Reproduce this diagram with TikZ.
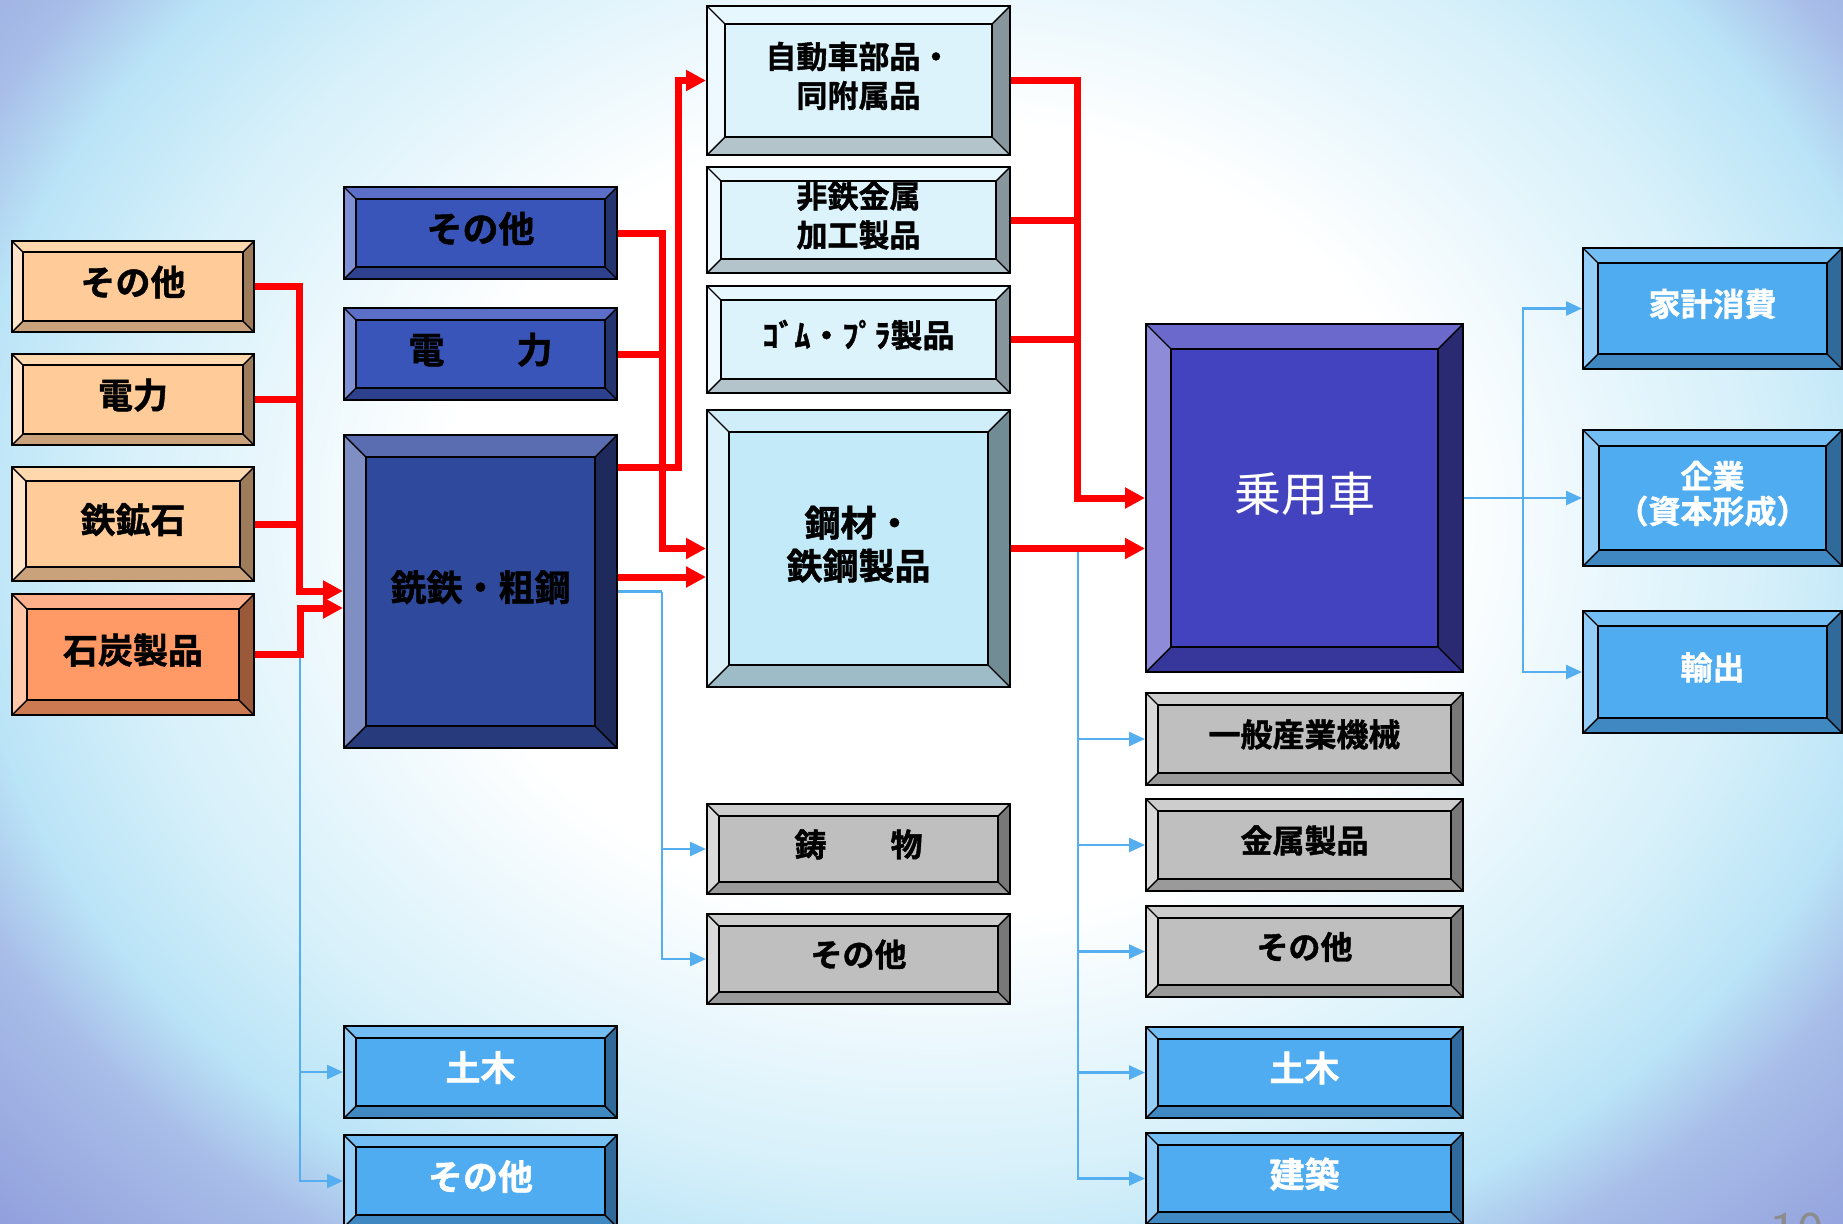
\documentclass[tikz,border=0pt]{standalone}
\usepackage{fontspec}
\newfontfamily\jpfont{Noto Sans CJK JP}[BoldFont={Noto Sans CJK JP Bold},BoldFeatures={FakeBold=1.2}]
\usetikzlibrary{arrows.meta}

% bevel colours: top, left, right, bottom, face
\definecolor{peachT}{HTML}{FFD8AE}\definecolor{peachL}{HTML}{FFE4C9}
\definecolor{peachR}{HTML}{9E7B5B}\definecolor{peachB}{HTML}{C9A27B}
\definecolor{peachF}{HTML}{FFCC99}
\definecolor{coralT}{HTML}{FFB08A}\definecolor{coralL}{HTML}{FFC6A8}
\definecolor{coralR}{HTML}{9A5A3A}\definecolor{coralB}{HTML}{CC7A52}
\definecolor{coralF}{HTML}{FF9966}
\definecolor{navyT}{HTML}{5C6FC8}\definecolor{navyL}{HTML}{8090D4}
\definecolor{navyR}{HTML}{24346F}\definecolor{navyB}{HTML}{2E418F}
\definecolor{navyF}{HTML}{3A55BA}
\definecolor{deepT}{HTML}{5A6DB0}\definecolor{deepL}{HTML}{7F8FC4}
\definecolor{deepR}{HTML}{1F2A5C}\definecolor{deepB}{HTML}{263A7C}
\definecolor{deepF}{HTML}{2F4A9C}
\definecolor{paleT}{HTML}{E6F7FD}\definecolor{paleL}{HTML}{EDF9FE}
\definecolor{paleR}{HTML}{86969C}\definecolor{paleB}{HTML}{B3C4CA}
\definecolor{paleF}{HTML}{DCF3FB}
\definecolor{iceT}{HTML}{CFEEF9}\definecolor{iceL}{HTML}{DCF2FB}
\definecolor{iceR}{HTML}{728C96}\definecolor{iceB}{HTML}{9EBCC7}
\definecolor{iceF}{HTML}{C2EAF8}
\definecolor{violetT}{HTML}{6B69CC}\definecolor{violetL}{HTML}{8E8CD9}
\definecolor{violetR}{HTML}{2A2A72}\definecolor{violetB}{HTML}{36369B}
\definecolor{violetF}{HTML}{4343BF}
\definecolor{greyT}{HTML}{CDCDCD}\definecolor{greyL}{HTML}{DADADA}
\definecolor{greyR}{HTML}{787878}\definecolor{greyB}{HTML}{9A9A9A}
\definecolor{greyF}{HTML}{BFBFBF}
\definecolor{skyT}{HTML}{72BDF4}\definecolor{skyL}{HTML}{94CDF7}
\definecolor{skyR}{HTML}{306A9A}\definecolor{skyB}{HTML}{3F88C2}
\definecolor{skyF}{HTML}{4FACF0}
% lines and background
\definecolor{linered}{HTML}{FF0000}
\definecolor{lineblue}{HTML}{55AEF0}
\definecolor{bgA}{HTML}{D6F0FA}
\definecolor{bgB}{HTML}{BAE4F7}
\definecolor{bgC}{HTML}{A8BDE8}
\definecolor{bgD}{HTML}{909EDC}
\definecolor{pagegrey}{HTML}{8C8C8C}

\pgfdeclareradialshading{backglow}{\pgfpoint{0bp}{0bp}}{%
  color(0bp)=(white); color(9.6bp)=(white); color(15.8bp)=(bgA);
  color(18.8bp)=(bgB); color(20.8bp)=(bgC); color(25bp)=(bgD);
  color(50bp)=(bgD)}

\tikzset{
  bev/.store in=\bevw, bev=6pt,
  wh/.style 2 args={minimum width=#1*0.5pt, minimum height=#2*0.5pt},
  tile/.style n args={5}{draw=black, line width=1pt, fill=#5, inner sep=0pt,
    align=center, text depth=6pt, font=\jpfont\bfseries\fontsize{17.5}{21}\selectfont,
    path picture={
      \path (path picture bounding box.south west) coordinate (sw)
            (path picture bounding box.south east) coordinate (se)
            (path picture bounding box.north east) coordinate (ne)
            (path picture bounding box.north west) coordinate (nw)
            ([shift={(\bevw,\bevw)}]sw) coordinate (isw)
            ([shift={(-\bevw,\bevw)}]se) coordinate (ise)
            ([shift={(-\bevw,-\bevw)}]ne) coordinate (ine)
            ([shift={(\bevw,-\bevw)}]nw) coordinate (inw);
      \fill[#1] (nw) -- (ne) -- (ine) -- (inw) -- cycle;
      \fill[#2] (nw) -- (sw) -- (isw) -- (inw) -- cycle;
      \fill[#3] (ne) -- (se) -- (ise) -- (ine) -- cycle;
      \fill[#4] (sw) -- (se) -- (ise) -- (isw) -- cycle;
      \draw[line width=0.7pt] (sw) -- (isw) (se) -- (ise) (ne) -- (ine) (nw) -- (inw);
      \draw[line width=1pt] (isw) rectangle (ine);
    }},
  peachbox/.style={tile={peachT}{peachL}{peachR}{peachB}{peachF}},
  coralbox/.style={tile={coralT}{coralL}{coralR}{coralB}{coralF}},
  navybox/.style={tile={navyT}{navyL}{navyR}{navyB}{navyF}},
  deepbox/.style={tile={deepT}{deepL}{deepR}{deepB}{deepF}},
  palebox/.style={tile={paleT}{paleL}{paleR}{paleB}{paleF}},
  icebox/.style={tile={iceT}{iceL}{iceR}{iceB}{iceF}},
  violetbox/.style={tile={violetT}{violetL}{violetR}{violetB}{violetF}, text=white},
  greybox/.style={tile={greyT}{greyL}{greyR}{greyB}{greyF}},
  skybox/.style={tile={skyT}{skyL}{skyR}{skyB}{skyF}, text=white},
  supply/.style={draw=linered, line width=3.5pt, -{Triangle[length=10pt,width=10pt]}},
  supplyline/.style={draw=linered, line width=3.5pt},
  feed/.style={draw=lineblue, line width=1.2pt, -{Triangle[length=8pt,width=7pt]}},
  feedline/.style={draw=lineblue, line width=1.2pt},
}

\begin{document}
\begin{tikzpicture}[x=0.5pt, y=-0.5pt]
\useasboundingbox (0,0) rectangle (1843,1223);
\begin{scope}
  \clip (0,0) rectangle (1843,1223);
  \shade[shading=backglow] (-360,-520) rectangle (2240,1560);
  \node[anchor=north, inner sep=0pt, text=pagegrey,
        font=\sffamily\fontsize{28}{30}\selectfont] (pageno) at (1797,1212) {10};
\end{scope}

% raw materials
\node[peachbox, bev=5.5pt, wh={242}{91}] (o1) at (133,286.5) {その他};
\node[peachbox, bev=5.5pt, wh={242}{91}] (o2) at (133,399.5) {電力};
\node[peachbox, bev=7pt, wh={242}{114}] (o3) at (133,524) {鉄鉱石};
\node[coralbox, bev=7.5pt, wh={242}{121}] (o4) at (133,654.5) {石炭製品};

% iron making
\node[navybox, bev=6pt, wh={273}{92}, font=\jpfont\bfseries\fontsize{18}{21}\selectfont] (b1) at (480.5,233) {その他};
\node[navybox, bev=6pt, wh={273}{92}, font=\jpfont\bfseries\fontsize{18}{21}\selectfont] (b2) at (480.5,354) {電　　力};
\node[deepbox, bev=11pt, wh={273}{313}, font=\jpfont\bfseries\fontsize{18}{21}\selectfont] (b3) at (480.5,591.5) {銑鉄・粗鋼};
\node[skybox, bev=6pt, wh={273}{92}] (l1) at (480.5,1072) {土木};
\node[skybox, bev=6pt, wh={273}{92}] (l2) at (480.5,1181) {その他};

% parts and materials
\node[palebox, bev=9pt, wh={303}{149}, font=\jpfont\bfseries\fontsize{15.5}{19.5}\selectfont] (c1) at (858.5,80.5) {自動車部品・\\同附属品};
\node[palebox, bev=7pt, wh={303}{106}, font=\jpfont\bfseries\fontsize{15.5}{19.5}\selectfont] (c2) at (858.5,220) {非鉄金属\\加工製品};
\node[palebox, bev=7pt, wh={303}{107}, font=\jpfont\bfseries\fontsize{16}{19}\selectfont] (c3) at (858.5,339.5) {ｺﾞﾑ・ﾌﾟﾗ製品};
\node[icebox, bev=11pt, wh={303}{277}, font=\jpfont\bfseries\fontsize{18}{21.5}\selectfont] (c4) at (858.5,548.5) {鋼材・\\鉄鋼製品};
\node[greybox, bev=6pt, wh={303}{90}, font=\jpfont\bfseries\fontsize{16}{19}\selectfont] (g1) at (858.5,849) {鋳　　物};
\node[greybox, bev=6pt, wh={303}{90}, font=\jpfont\bfseries\fontsize{16}{19}\selectfont] (g2) at (858.5,959) {その他};

% cars and other users
\node[violetbox, bev=12.5pt, wh={317}{348}, font=\jpfont\fontsize{23.5}{26}\selectfont] (car) at (1304.5,498) {乗用車};
\node[greybox, bev=6pt, wh={317}{92}, font=\jpfont\bfseries\fontsize{16}{19}\selectfont] (g3) at (1304.5,739) {一般産業機械};
\node[greybox, bev=6pt, wh={317}{92}, font=\jpfont\bfseries\fontsize{16}{19}\selectfont] (g4) at (1304.5,845) {金属製品};
\node[greybox, bev=6pt, wh={317}{91}, font=\jpfont\bfseries\fontsize{16}{19}\selectfont] (g5) at (1304.5,951.5) {その他};
\node[skybox, bev=6pt, wh={317}{91}] (l3) at (1304.5,1072.5) {土木};
\node[skybox, bev=6pt, wh={317}{91}] (l4) at (1304.5,1178.5) {建築};

% final demand
\node[skybox, bev=7.5pt, wh={259}{121}, font=\jpfont\bfseries\fontsize{16}{19}\selectfont] (r1) at (1712.5,308.5) {家計消費};
\node[skybox, bev=8pt, wh={259}{136}, font=\jpfont\bfseries\fontsize{16}{17.5}\selectfont] (r2) at (1712.5,498) {企業\\（資本形成）};
\node[skybox, bev=7.5pt, wh={259}{122}, font=\jpfont\bfseries\fontsize{16}{19}\selectfont] (r3) at (1712.5,672) {輸出};

% junctions
\coordinate (tap1) at (300,654.5);
\coordinate (tap2) at (662,591.5);
\coordinate (tap3) at (1078,548.5);
\coordinate (tap4) at (1523,498);
\coordinate (bus1) at (299,591);
\coordinate (bus2) at (300,608);
\coordinate (bus3) at (662,548.5);
\coordinate (bus4) at (678,467);
\coordinate (bus5) at (662,577);
\coordinate (bus6) at (1077,498);

% thin blue flows
\foreach \t in {l1,l2} \draw[feed] (tap1) |- (\t.west);
\draw[feedline] (b3.east) -- (tap2);
\foreach \t in {g1,g2} \draw[feed] (tap2) |- (\t.west);
\foreach \t in {g3,g4,g5,l3,l4} \draw[feed] (tap3) |- (\t.west);
\draw[feedline] (car.east) -- (tap4);
\foreach \t in {r1,r2,r3} \draw[feed] (tap4) |- (\t.west);

% red supply flows
\draw[supply] (o1.east) -| (bus1) -- (bus1 -| b3.west);
\draw[supplyline] (o2.east) -- (o2.east -| bus1);
\draw[supplyline] (o3.east) -- (o3.east -| bus1);
\draw[supply] (o4.east) -| (bus2) -- (bus2 -| b3.west);
\draw[supply] (b1.east) -| (bus3) -- (c4.west);
\draw[supplyline] (b2.east) -- (b2.east -| bus3);
\draw[supply] (bus4 -| b3.east) -- (bus4) |- (c1.west);
\draw[supply] (bus5 -| b3.east) -- (bus5 -| c4.west);
\draw[supply] (c1.east) -| (bus6) -- (car.west);
\draw[supplyline] (c2.east) -- (c2.east -| bus6);
\draw[supplyline] (c3.east) -- (c3.east -| bus6);
\draw[supply] (c4.east) -- (c4.east -| car.west);
\end{tikzpicture}
\end{document}
